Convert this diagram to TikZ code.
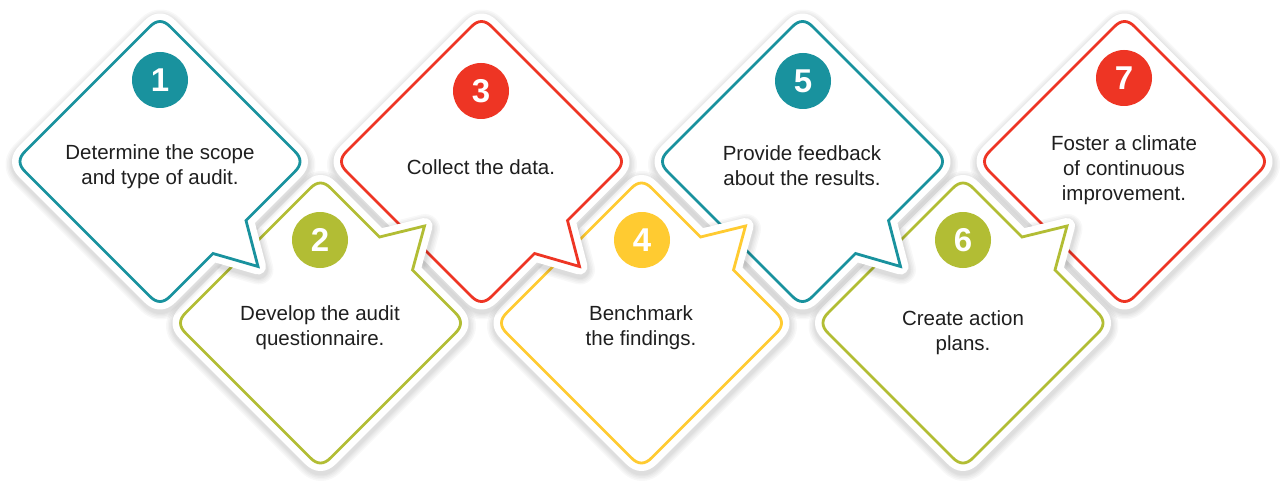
\documentclass[tikz,border=0pt]{standalone}
\usepackage{fontspec}
\setmainfont{Liberation Sans}
\usepackage{xcolor}
\definecolor{mteal}{RGB}{25,146,158}
\definecolor{mred}{RGB}{238,53,36}
\definecolor{molive}{RGB}{178,189,52}
\definecolor{myellow}{RGB}{255,203,49}

% rounded diamond, #1 = tail on upper right edge, #2 = tail on lower right edge
\newcommand\cardpath[2]{(-10,-135) .. controls (-3.3,-141.7) and (3.3,-141.7) .. (10,-135) #1
  -- (135,-10) .. controls (141.7,-3.3) and (141.7,3.3) .. (135,10) #2
  -- (10,135) .. controls (3.3,141.7) and (-3.3,141.7) .. (-10,135)
  -- (-135,10) .. controls (-141.7,3.3) and (-141.7,-3.3) .. (-135,-10) -- cycle}
\newcommand\card[4]{%
  \begin{scope}[shift={#1}]
    \foreach \w in {30,27,24,21,19} \path[card shadow, line width=\w pt] \cardpath{#3}{#4};
    \path[card halo] \cardpath{#3}{#4};
    \draw[card line=#2] \cardpath{#3}{#4};
  \end{scope}}

\begin{document}
\begin{tikzpicture}[x=1pt, y=-1pt]
  \tikzset{card shadow/.style={draw=black, draw opacity=0.028, line join=round, yshift=-3pt, xshift=0.5pt},
    card halo/.style={draw=white, fill=white, line width=16pt, line join=round},
    card line/.style={draw=#1, line width=2.8pt, line join=miter},
    num circle/.style={circle, fill=#1, minimum size=56pt, inner sep=0pt, text=white, font=\bfseries\fontsize{33}{33}\selectfont},
    step text/.style={align=center, inner sep=0pt, text=black!88, font=\fontsize{20.5}{25}\selectfont}}
  \useasboundingbox (0,0) rectangle (1284,484);

  % right to left, so each card lies on the next one
  \card{(1124.5,161.5)}{mred}{}{}
  \card{(963,323)}{molive}{-- (59,-86) -- (104,-97) -- (92,-53)}{}
  \card{(802.5,161.5)}{mteal}{}{-- (86,59) -- (98,105) -- (53,92)}
  \card{(641.5,323)}{myellow}{-- (59,-86) -- (104,-97) -- (92,-53)}{}
  \card{(481.5,161.5)}{mred}{}{-- (86,59) -- (98,105) -- (53,92)}
  \card{(320.5,323)}{molive}{-- (59,-86) -- (104,-97) -- (92,-53)}{}
  \card{(160,161.5)}{mteal}{}{-- (86,59) -- (98,105) -- (53,92)}

  \node[num circle=mteal] (n1) at (160,80) {1};
  \node[num circle=molive] (n2) at (320,240) {2};
  \node[num circle=mred] (n3) at (481,91) {3};
  \node[num circle=myellow] (n4) at (642,240) {4};
  \node[num circle=mteal] (n5) at (803,81) {5};
  \node[num circle=molive] (n6) at (963,240) {6};
  \node[num circle=mred] (n7) at (1124,78) {7};

  \node[step text] (t1) at (160,166.5) {Determine the scope\\and type of audit.};
  \node[step text] (t2) at (320,327.5) {Develop the audit\\questionnaire.};
  \node[step text] (t3) at (481,167) {Collect the data.};
  \node[step text] (t4) at (641,328) {Benchmark\\the findings.};
  \node[step text] (t5) at (802,165.5) {Provide feedback\\about the results.};
  \node[step text] (t6) at (963,332.5) {Create action\\plans.};
  \node[step text] (t7) at (1124,170) {Foster a climate\\of continuous\\improvement.};
\end{tikzpicture}
\end{document}
